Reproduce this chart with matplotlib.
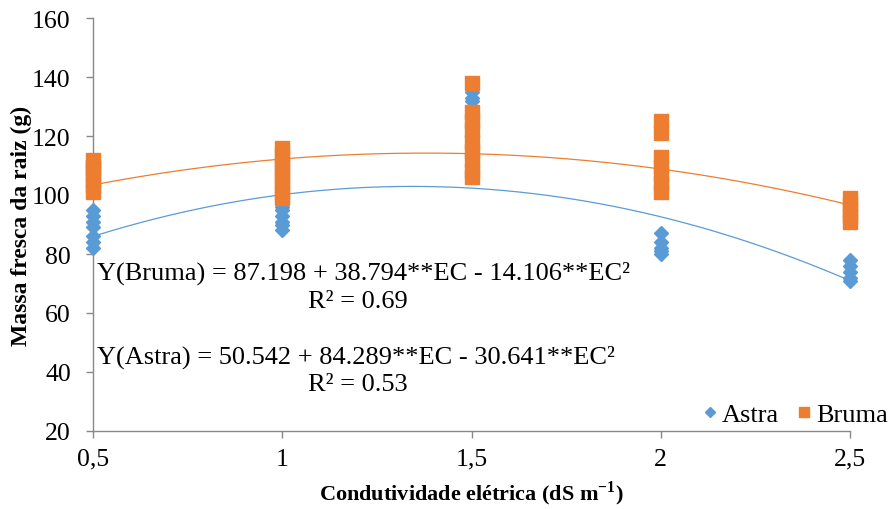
import numpy as np
import matplotlib
matplotlib.use('Agg')
import matplotlib.pyplot as plt

plt.rcParams['font.family'] = ['Liberation Serif', 'DejaVu Serif']
plt.rcParams['mathtext.fontset'] = 'custom'
plt.rcParams['mathtext.rm'] = 'Liberation Serif'
plt.rcParams['mathtext.bf'] = 'Liberation Serif:bold'

# observed values per electrical conductivity level
astra_x = [0.5] * 7 + [1.0] * 6 + [1.5] * 7 + [2.0] * 5 + [2.5] * 5
astra_y = [82, 84, 86, 89, 91, 93, 95,
           88, 90, 91, 93, 95, 96,
           133, 135, 132, 120, 112, 108, 115,
           87, 84, 82, 81, 80,
           78, 76, 74, 72, 71]

bruma_x = [0.5] * 7 + [1.0] * 8 + [1.5] * 9 + [2.0] * 7 + [2.5] * 5
bruma_y = [101, 103, 105, 107, 109, 110, 112,
           99, 101, 104, 106, 109, 111, 114, 116,
           138, 128, 125, 122, 118, 115, 112, 108, 106,
           125, 121, 113, 110, 107, 104, 101,
           99, 97, 95, 93, 91]

# trend line heights read at each level (quadratic trendlines)
levels = [0.5, 1.0, 1.5, 2.0, 2.5]
astra_trend = [86, 100, 102.5, 92.5, 71]
bruma_trend = [103.5, 112, 114, 109, 96.5]

blue = '#5B9BD5'
orange = '#ED7D31'

fig = plt.figure(figsize=(8.93, 5.10), dpi=100)
ax = fig.add_axes([93 / 893, 1 - 432 / 510, (850 - 93) / 893, (432 - 19) / 510])

xs = np.linspace(0.5, 2.5, 200)
ax.plot(xs, np.polyval(np.polyfit(levels, astra_trend, 2), xs),
        color=blue, lw=0.9, zorder=2)
ax.plot(xs, np.polyval(np.polyfit(levels, bruma_trend, 2), xs),
        color=orange, lw=0.9, zorder=2)

ax.plot(astra_x, astra_y, 'D', color=blue, markersize=7, ls='none',
        label='Astra', zorder=3, clip_on=False)
ax.plot(bruma_x, bruma_y, 's', color=orange, markersize=9.5, ls='none',
        label='Bruma', zorder=4, clip_on=False)

ax.set_xlim(0.5, 2.5)
ax.set_ylim(20, 160)
ax.set_xticks(levels)
ax.set_xticklabels(['0,5', '1', '1,5', '2', '2,5'])
ax.set_yticks(range(20, 161, 20))

for s in ['top', 'right']:
    ax.spines[s].set_visible(False)
for s in ['left', 'bottom']:
    ax.spines[s].set_color('#888888')
    ax.spines[s].set_linewidth(1.0)
ax.tick_params(axis='both', colors='#888888', labelcolor='black',
               labelsize=18.5, length=5, width=1.0)
ax.tick_params(axis='y', pad=11)
ax.tick_params(axis='x', pad=7)

ax.set_ylabel('Massa fresca da raiz (g)', fontsize=17, fontweight='bold',
              labelpad=0)
ax.set_xlabel(r'Condutividade elétrica (dS m$^{\mathbf{-1}}$)', fontsize=16,
              fontweight='bold', labelpad=6)

ax.text(0.51, 73.9, 'Y(Bruma) = 87.198 + 38.794**EC - 14.106**EC²',
        fontsize=19, va='center', ha='left')
ax.text(1.20, 64.1, 'R² = 0.69', fontsize=19, va='center', ha='center')
ax.text(0.51, 45.3, 'Y(Astra) = 50.542 + 84.289**EC - 30.641**EC²',
        fontsize=19, va='center', ha='left')
ax.text(1.20, 36.0, 'R² = 0.53', fontsize=19, va='center', ha='center')

ax.legend(loc='center right', bbox_to_anchor=(1.0, 1 - 415 / 510),
          bbox_transform=fig.transFigure, ncol=2, frameon=False,
          fontsize=19, handletextpad=0.1, columnspacing=0.6,
          handlelength=0.7, borderpad=0.1, borderaxespad=0.1,
          markerscale=0.7)

fig.savefig('out.png', dpi=100)
